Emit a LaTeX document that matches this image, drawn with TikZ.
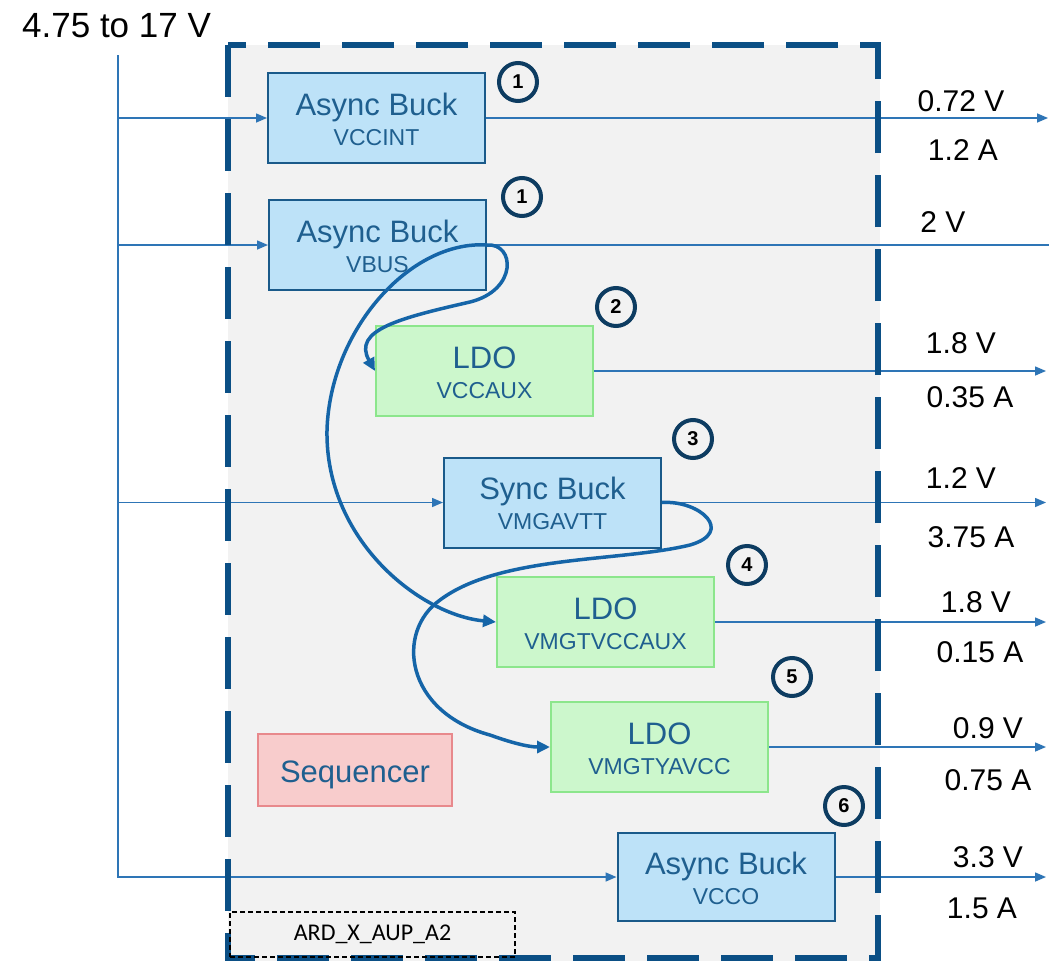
\documentclass[tikz,border=0pt]{standalone}
\usepackage{fontspec}
\setmainfont{Liberation Sans}
\newfontfamily\ardfont{Carlito}
\usetikzlibrary{arrows.meta}
\definecolor{bggray}{HTML}{F2F2F2}
\definecolor{frameblue}{HTML}{0B4F85}
\definecolor{bluefill}{HTML}{BDE2F8}
\definecolor{blueedge}{HTML}{1A5A8A}
\definecolor{greenfill}{HTML}{CCF7CC}
\definecolor{greenedge}{HTML}{8CE68C}
\definecolor{pinkfill}{HTML}{F8CCCC}
\definecolor{pinkedge}{HTML}{E8898C}
\definecolor{boxtext}{HTML}{1F5F8F}
\definecolor{thinblue}{HTML}{2E75B6}
\definecolor{curveblue}{HTML}{1565A8}
\definecolor{circedge}{HTML}{0D3C61}
\begin{document}
\begin{tikzpicture}[x=1pt,y=-1pt,
  conv/.style={rectangle, minimum width=217pt, minimum height=90pt, inner sep=0pt, line width=2pt},
  buck/.style={conv, fill=bluefill, draw=blueedge},
  ldobox/.style={conv, fill=greenfill, draw=greenedge},
  boxttl/.style={anchor=base, inner sep=0pt, text=boxtext, font=\fontsize{31}{31}\selectfont},
  boxsub/.style={anchor=base, inner sep=0pt, text=boxtext, font=\fontsize{23}{23}\selectfont},
  outlbl/.style={inner sep=0pt, anchor=center, font=\fontsize{30}{30}\selectfont},
  numcirc/.style={circle, draw=circedge, line width=4pt, minimum size=38pt, inner sep=0pt, font=\bfseries\fontsize{20}{20}\selectfont},
  thinln/.style={thinblue, line width=1.5pt},
  thinarr/.style={thinln, -{Triangle[length=11pt,width=9pt]}},
  curvearr/.style={curveblue, line width=3.5pt, -{Triangle[length=13pt,width=12pt]}}
]
\useasboundingbox (0,0) rectangle (1049,961);
\fill[white] (0,0) rectangle (1049,961);
\fill[bggray] (228,45) rectangle (880,961);

% input label and rail
\node[anchor=base west, inner sep=0pt, font=\fontsize{35}{35}\selectfont] (vinlbl) at (22,37) {4.75 to 17 V};
\coordinate (vtop) at (118,55);

% converter boxes
\node[buck] (b1) at (376.5,118) {};
\node[boxttl] (b1t) at (376.5,115) {Async Buck};
\node[boxsub] (b1s) at (376.5,145) {VCCINT};

\node[buck] (b2) at (377.5,245) {};
\node[boxttl] (b2t) at (377.5,242) {Async Buck};
\node[boxsub] (b2s) at (377.5,272) {VBUS};

\node[ldobox] (l1) at (484.5,371) {};
\node[boxttl] (l1t) at (484.5,368) {LDO};
\node[boxsub] (l1s) at (484.5,398) {VCCAUX};

\node[buck] (sb) at (552.5,502.5) {};
\node[boxttl] (sbt) at (552.5,499.5) {Sync Buck};
\node[boxsub] (sbs) at (552.5,529.5) {VMGAVTT};

\node[ldobox] (l2) at (605.5,622) {};
\node[boxttl] (l2t) at (605.5,619) {LDO};
\node[boxsub] (l2s) at (605.5,649) {VMGTVCCAUX};

\node[ldobox] (l3) at (659.5,747) {};
\node[boxttl] (l3t) at (659.5,744) {LDO};
\node[boxsub] (l3s) at (659.5,774) {VMGTYAVCC};

\node[buck, minimum height=88pt] (b3) at (726,877) {};
\node[boxttl] (b3t) at (726,874) {Async Buck};
\node[boxsub] (b3s) at (726,904) {VCCO};

\node[rectangle, minimum width=194pt, minimum height=72pt, inner sep=0pt, line width=2pt, fill=pinkfill, draw=pinkedge] (seq) at (355,770) {};
\node[boxttl] (seqt) at (355,782) {Sequencer};

% input connections
\draw[thinarr] (vtop) |- (b3.west);
\draw[thinarr] (vtop |- b1.west) -- (b1.west);
\draw[thinarr] (vtop |- b2.west) -- (b2.west);
\draw[thinarr] (vtop |- sb.west) -- (sb.west);

% outputs
\coordinate (o1) at (1048,118);
\coordinate (o2) at (1049,245);
\coordinate (o3) at (1046,371);
\coordinate (o4) at (1046,502.5);
\coordinate (o5) at (1046,622);
\coordinate (o6) at (1046,747);
\coordinate (o7) at (1046,877);
\draw[thinarr] (b1.east) -- (o1);
\draw[thinln] (b2.east) -- (o2);
\draw[thinarr] (l1.east) -- (o3);
\draw[thinarr] (sb.east) -- (o4);
\draw[thinarr] (l2.east) -- (o5);
\draw[thinarr] (l3.east) -- (o6);
\draw[thinarr] (b3.east) -- (o7);

% frame
\draw[frameblue, line width=6pt, dash pattern=on 52pt off 22pt] (228,45) rectangle (878,958);

% output labels
\node[outlbl] (v1) at (961,101) {0.72 V};
\node[outlbl] (i1) at (963,150) {1.2 A};
\node[outlbl] (v2) at (943,222) {2 V};
\node[outlbl] (v3) at (961,343) {1.8 V};
\node[outlbl] (i3) at (970,397) {0.35 A};
\node[outlbl] (v4) at (961,478) {1.2 V};
\node[outlbl] (i4) at (971,537) {3.75 A};
\node[outlbl] (v5) at (976,602) {1.8 V};
\node[outlbl] (i5) at (980,652) {0.15 A};
\node[outlbl] (v6) at (988,728) {0.9 V};
\node[outlbl] (i6) at (988,780) {0.75 A};
\node[outlbl] (v7) at (988,857) {3.3 V};
\node[outlbl] (i7) at (982,908) {1.5 A};

% sequence numbers
\node[numcirc] (n1a) at (518,82) {1};
\node[numcirc] (n1b) at (522,197) {1};
\node[numcirc] (n2) at (616,307) {2};
\node[numcirc] (n3) at (693,439) {3};
\node[numcirc] (n4) at (747,565) {4};
\node[numcirc] (n5) at (792,677) {5};
\node[numcirc] (n6) at (844,806) {6};

% sequencing curves
\draw[curvearr] (b2.east) .. controls (515,243) and (518,290) .. (470,302)
  .. controls (400,318) and (352,330) .. (l1.west);
\draw[curvearr] (b2.east) .. controls (410,240) and (330,330) .. (327,430)
  .. controls (325,540) and (420,615) .. (l2.west);
\draw[curvearr] (sb.east) .. controls (700,500) and (735,532) .. (690,545)
  .. controls (620,562) and (500,555) .. (440,600)
  .. controls (395,632) and (405,712) .. (490,735)
  .. controls (515,744) and (530,747) .. (l3.west);

% board label
\node[draw=black, dash pattern=on 5pt off 3pt, line width=1.2pt, minimum width=285pt, minimum height=45pt, inner sep=0pt, font=\ardfont\fontsize{24}{24}\selectfont] (ard) at (372.5,934.5) {ARD\_X\_AUP\_A2};
\end{tikzpicture}
\end{document}
